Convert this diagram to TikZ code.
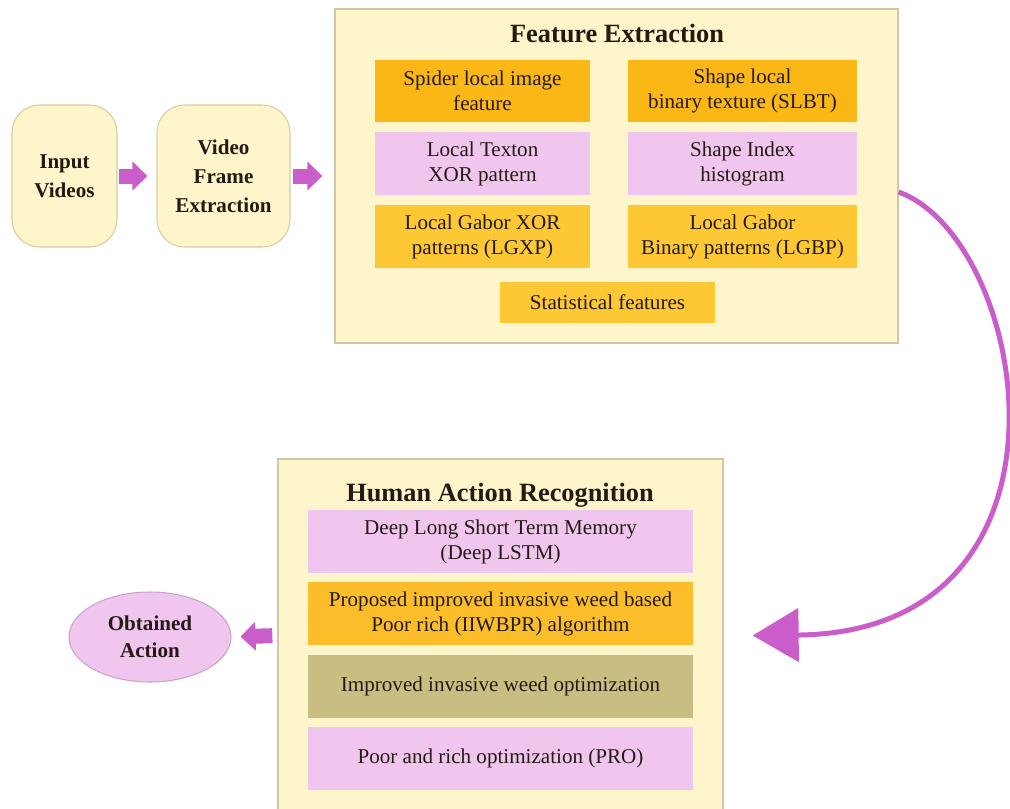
\documentclass[tikz,border=0pt]{standalone}
\usepackage{fontspec}
\setmainfont{Liberation Serif}
\usetikzlibrary{arrows.meta,shapes.geometric,calc}
\definecolor{lightyel}{HTML}{FEF5CB}
\definecolor{panelborder}{HTML}{CFC8A8}
\definecolor{startborder}{HTML}{D6CCA0}
\definecolor{orangeA}{HTML}{FBB716}
\definecolor{orangeB}{HTML}{FDC833}
\definecolor{orangeC}{HTML}{FBBE2A}
\definecolor{pinkbox}{HTML}{F0C5EE}
\definecolor{olivebox}{HTML}{CABD82}
\definecolor{mag}{HTML}{CA5DCA}
\definecolor{ellborder}{HTML}{C9A3C9}
\definecolor{txt}{HTML}{231A14}
\begin{document}
\begin{tikzpicture}[x=0.02cm,y=-0.02cm,
  startbox/.style={draw=startborder, fill=lightyel, rounded corners=0.55cm, line width=0.6pt,
    minimum height=2.84cm, inner sep=0, align=center, text=txt,
    font=\bfseries\fontsize{12}{16.5}\selectfont},
  panel/.style={draw=panelborder, fill=lightyel, line width=0.8pt, inner sep=0},
  paneltitle/.style={anchor=base, text=txt, inner sep=0, font=\bfseries\fontsize{15}{18}\selectfont},
  itembox/.style={minimum height=1.25cm, inner sep=0, align=center, text=txt,
    font=\fontsize{12}{14.2}\selectfont},
  blockarrow/.style={draw=mag, line width=0.3cm, -{Triangle[length=0.3cm,width=0.56cm]}},
  curvearrow/.style={draw=mag, line width=0.1cm, -{Triangle[length=0.92cm,width=1.06cm]}}
]
\useasboundingbox (0,0) rectangle (1010,808);

% start boxes
\node[startbox, minimum width=2.1cm] (iv) at (64.5,176) {Input\\Videos};
\node[startbox, minimum width=2.66cm] (vfe) at (223.5,176) {Video\\Frame\\Extraction};

% feature extraction panel
\node[panel, minimum width=11.26cm, minimum height=6.68cm] (fe) at (616.5,176) {};
\node[paneltitle] (fet) at (617,42) {Feature Extraction};
\node[itembox, fill=orangeA, minimum width=4.3cm] (fe1) at (482.5,91) {Spider local image\\feature};
\node[itembox, fill=orangeA, minimum width=4.58cm] (fe2) at (742.5,91) {Shape local\\binary texture (SLBT)};
\node[itembox, fill=pinkbox, minimum width=4.3cm] (fe3) at (482.5,163.5) {Local Texton\\XOR pattern};
\node[itembox, fill=pinkbox, minimum width=4.58cm] (fe4) at (742.5,163.5) {Shape Index\\histogram};
\node[itembox, fill=orangeB, minimum width=4.3cm] (fe5) at (482.5,236.5) {Local Gabor XOR\\patterns (LGXP)};
\node[itembox, fill=orangeB, minimum width=4.58cm] (fe6) at (742.5,236.5) {Local Gabor\\Binary patterns (LGBP)};
\node[itembox, fill=orangeB, minimum width=4.3cm, minimum height=0.82cm] (fe7) at (607.5,302.5) {Statistical features};

% human action recognition panel
\node[panel, minimum width=8.9cm, minimum height=7.06cm] (har) at (500.5,635.5) {};
\node[paneltitle] (hart) at (500,501) {Human Action Recognition};
\node[itembox, fill=pinkbox, minimum width=7.7cm] (h1) at (500.5,541.5) {Deep Long Short Term Memory\\(Deep LSTM)};
\node[itembox, fill=orangeC, minimum width=7.7cm] (h2) at (500.5,613.5) {Proposed improved invasive weed based\\Poor rich (IIWBPR) algorithm};
\node[itembox, fill=olivebox, minimum width=7.7cm] (h3) at (500.5,686.5) {Improved invasive weed optimization};
\node[itembox, fill=pinkbox, minimum width=7.7cm] (h4) at (500.5,758.5) {Poor and rich optimization (PRO)};

% output ellipse
\node[ellipse, draw=ellborder, fill=pinkbox, line width=0.6pt, minimum width=3.24cm, minimum height=1.8cm,
  inner sep=0, align=center, text=txt, font=\bfseries\fontsize{12}{15.5}\selectfont] (oa) at (150,637) {Obtained\\Action};

% connectors
\draw[blockarrow, shorten <=0.02cm, shorten >=0.18cm] (iv) -- (vfe);
\draw[blockarrow, shorten <=0.04cm, shorten >=0.24cm] (vfe) -- (fe);
\draw[blockarrow, shorten <=0.1cm, shorten >=0.18cm] (har.west) -- (oa.east);
\coordinate (tipend) at ([xshift=0.58cm]har.east);
\draw[curvearrow] ([yshift=-0.32cm]fe.east) .. controls (1030,240) and (1095,632) .. (tipend);
\end{tikzpicture}
\end{document}
